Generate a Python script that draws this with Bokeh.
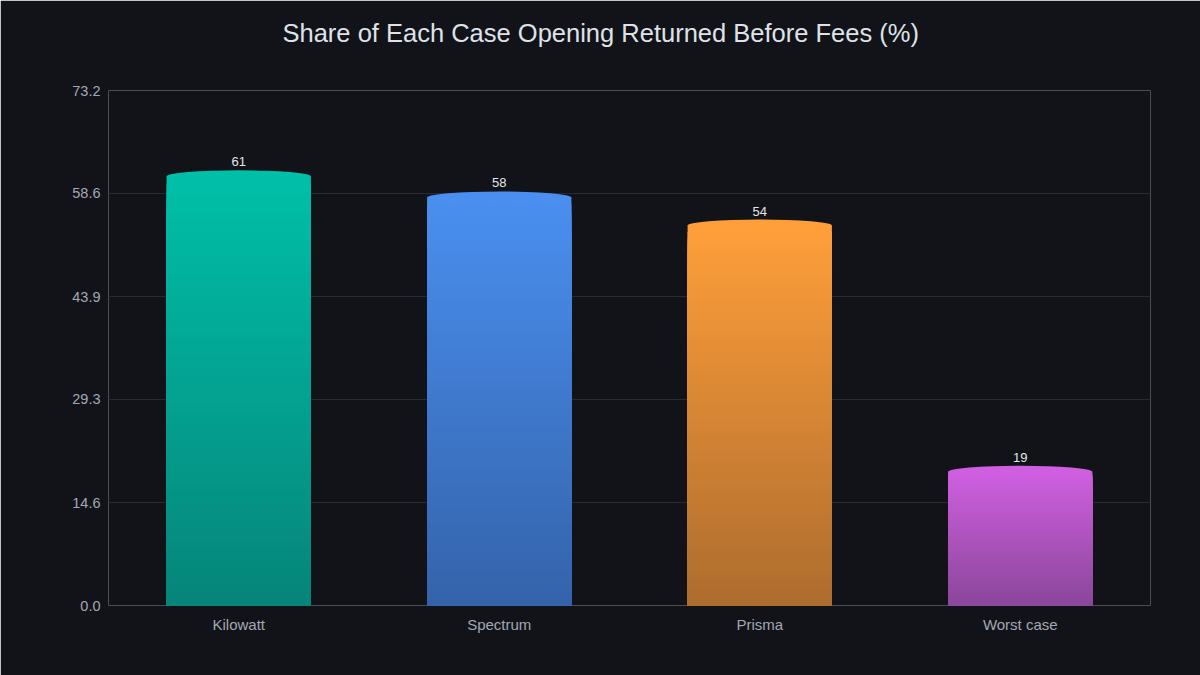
from bokeh.plotting import figure
from bokeh.models import Range1d, FactorRange, FixedTicker, NumeralTickFormatter, Title
from bokeh.core.properties import value
from bokeh.embed import file_html
from bokeh.resources import INLINE

categories = ["Kilowatt", "Spectrum", "Prisma", "Worst case"]
shares = [61, 58, 54, 19]
y_ticks = [0.0, 14.6, 29.3, 43.9, 58.6, 73.2]
y_max = 73.2
title_text = "Share of Each Case Opening Returned Before Fees (%)"

top_colors = ["#00bfa8", "#4a8ff0", "#ff9f3a", "#cf5fe0"]
bottom_colors = ["#06857a", "#3463aa", "#ad6c2e", "#8a479a"]

BG = "#111319"
GRID = "#272b33"
FONT = "Liberation Sans"


def hex2rgb(h):
    h = h.lstrip("#")
    return tuple(int(h[i:i + 2], 16) for i in (0, 2, 4))


def mix(c0, c1, t):
    a, b = hex2rgb(c0), hex2rgb(c1)
    return "#%02x%02x%02x" % tuple(round(a[i] + (b[i] - a[i]) * t) for i in range(3))


p = figure(
    width=1200, height=675,
    x_range=FactorRange(*categories, range_padding=0),
    y_range=Range1d(0, y_max),
    output_backend="svg", toolbar_location=None,
    background_fill_color=BG, border_fill_color=BG,
    min_border_left=108, min_border_right=50, min_border_top=90, min_border_bottom=70,
)
p.outline_line_color = None
p.outline_line_alpha = 0
p.x_range.factor_padding = 0

BAR_W = 0.554

# gradient: nested slices drawn tallest first so each lower one covers the one beneath
N = 60
xs, tops, cols = [], [], []
for cat, v, c_top, c_bot in zip(categories, shares, top_colors, bottom_colors):
    for i in range(N, 0, -1):
        t = v * i / N
        xs.append(cat)
        tops.append(t)
        cols.append(mix(c_bot, c_top, (i - 0.5) / N))
p.vbar(x=xs, bottom=0, top=tops, width=BAR_W, fill_color=cols, line_color=None)

# domed top
p.ellipse(x=categories, y=shares, width=BAR_W, height=12, height_units="screen",
          fill_color=top_colors, line_color=None)

# value labels
p.text(x=categories, y=shares, text=[str(v) for v in shares],
       text_align="center", text_baseline="bottom", y_offset=-10,
       text_font=value(FONT), text_font_size="13px", text_color="#e4e6ea")

# axes
p.yaxis.ticker = FixedTicker(ticks=y_ticks)
p.yaxis.formatter = NumeralTickFormatter(format="0.0")
for ax in (p.xaxis, p.yaxis):
    ax.axis_line_color = None
    ax.major_tick_line_color = None
    ax.minor_tick_line_color = None
    ax.major_tick_out = 0
    ax.major_label_text_font = FONT
    ax.major_label_text_color = "#a3a8b2"
p.xaxis.major_label_text_font_size = "15px"
p.yaxis.major_label_text_font_size = "14.5px"
p.yaxis.major_label_standoff = 8
p.xaxis.major_label_standoff = 10

p.xgrid.grid_line_color = None
p.ygrid.grid_line_color = GRID
p.ygrid.grid_line_width = 1

p.title.text = title_text
p.title.align = "left"
p.title.offset = 174
p.title.standoff = 0
p.title.text_font = FONT
p.title.text_font_size = "25.5px"
p.title.text_font_style = "normal"
p.title.text_color = "#dfe2e7"

spacer = Title(text=" ", text_font_size="38px", standoff=0, text_color=BG)
p.above = [spacer] + list(p.above)

open("out.html", "w").write(file_html(p, INLINE))
